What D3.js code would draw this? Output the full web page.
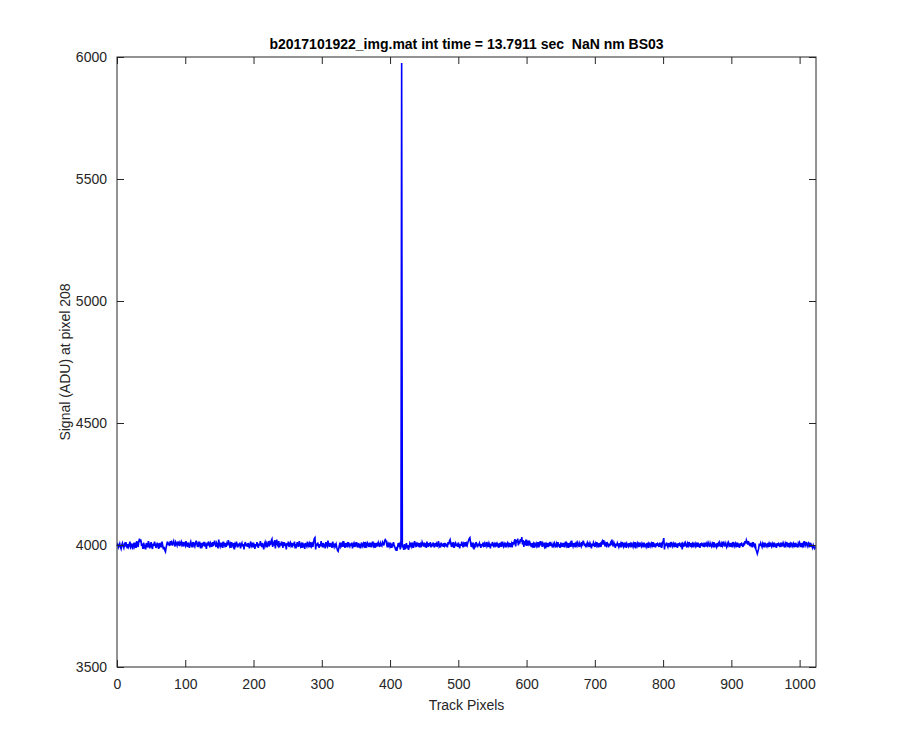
<!DOCTYPE html>
<html><head><meta charset="utf-8">
<script src="https://cdn.jsdelivr.net/npm/d3@7"></script>
<style>body{margin:0;background:#fff}svg{display:block}text{font-family:"Liberation Sans",Arial,sans-serif}</style>
</head><body>
<script>
const titleText = "b2017101922_img.mat int time = 13.7911 sec  NaN nm BS03";
const xLabel = "Track Pixels";
const yLabel = "Signal (ADU) at pixel 208";
const xTicks = [0,100,200,300,400,500,600,700,800,900,1000];
const yTicks = [3500,4000,4500,5000,5500,6000];
const signal = [
3996,4002,3990,3998,4006,3992,3984,4000,4008,3996,3988,4002,3994,4012,3998,3986,4004,3992,4000,4014,3990,3996,4006,3982,3998,4010,3994,4002,3988,4016,4004,3992,
4016,4026,4012,4022,3996,4006,3984,4010,3994,4002,3982,4008,3998,3990,4016,4004,3986,4000,4012,3992,3984,4006,3996,4014,4002,3988,3998,4010,3994,3984,4008,3996,
4002,3990,4014,3998,3982,3992,3978,3972,3990,4004,4014,4000,4010,3996,4016,4006,4012,3998,4008,4016,4002,3994,4012,4006,3998,4014,4004,4010,3996,4008,4014,4000,
4006,3994,4012,4002,3996,4016,4004,3992,4010,4000,3988,4006,4014,3998,4004,3990,4012,4002,3994,4008,4018,4004,3992,4006,3998,4014,4002,3986,4008,3996,4004,4012,
3994,4006,4000,3984,4010,3998,4014,4004,3990,4008,4002,3992,4012,3996,4006,4018,4004,3992,4008,4000,3986,4022,4002,3994,4010,3998,4004,3988,4014,4002,3996,4008,
3992,4006,3998,4020,4010,3996,4004,3988,4012,4000,3994,4008,3982,4004,3998,4014,4002,3990,4006,3996,4010,3986,4000,4008,3994,4004,3982,4002,4012,3996,4006,3992,
4008,3998,3986,4006,4014,3996,4002,3990,4010,3998,3984,4004,3994,4012,4000,3988,4006,3998,4016,4002,3992,4008,3996,3982,4004,4012,3998,4006,3990,4002,4016,3994,
4008,4000,4018,4024,3992,4014,3998,4020,3986,4010,4022,4002,3996,4016,3990,4008,3998,4014,4004,3988,4012,3996,4006,4002,3982,4008,3998,4014,3992,4004,4010,3996,
4002,3990,4008,3998,4014,3986,4004,3996,4012,4000,3992,4016,4006,3994,4002,3988,4010,3998,4006,3984,4008,4000,3994,4014,4002,3990,4006,3998,4012,3996,4004,3992,
4012,4026,4030,3982,4006,3996,4010,4000,3988,4004,3994,4016,4002,3990,4008,3998,4006,3986,4012,4000,3994,4018,4004,3992,4008,3998,4002,3988,4014,4000,3992,4006,
3996,4004,3990,3978,3974,3988,4002,3994,4010,3998,4006,3992,4016,4002,3988,4008,3998,4004,3990,4012,4000,3994,4006,3996,4010,3986,4002,4008,3992,4004,3998,4012,
4000,3990,4008,3996,4004,3986,4010,4000,3994,4006,3998,4012,3988,4004,3996,4008,4002,3992,4010,3998,4004,3990,4006,4014,3996,4002,3988,4008,3998,4004,3994,4010,
4002,3992,4008,4000,3996,4012,4006,3998,4016,4022,4018,4004,3990,4006,3998,4010,3994,4002,3988,4006,3998,4012,4000,3992,3982,3986,3976,3992,4008,3998,4004,3982,
4006,5975,3990,3998,3980,4004,3982,3994,4008,3986,4000,3980,3992,4006,3998,4010,3994,4002,3988,4006,4016,3998,4004,3992,4010,4000,3996,4008,3990,4004,3998,4012,
4004,3994,4010,3998,4002,3988,4014,4002,3992,4008,3996,4012,3990,4006,3994,4010,4000,3990,4008,4000,4006,3992,4004,4016,3994,4000,3990,4010,3996,4006,3992,4008,
3998,4008,3994,4004,3990,4012,4002,4016,4022,4006,3992,4004,3998,4012,3988,4002,4008,3996,4006,3992,4010,4000,3986,4004,3996,4014,4002,3990,4006,4000,4012,3994,
4006,3998,4010,4018,4026,4030,4008,3992,4004,3996,4010,3982,4006,3998,4012,4002,3990,4006,3996,4008,4000,3988,4004,3994,4010,3998,4006,3992,4002,4012,3996,4004,
3992,4008,4000,3986,4006,3996,4012,4002,3990,4004,3998,4010,3994,4006,4000,3988,4008,3998,4004,3992,4014,4002,3994,4006,3998,4010,3990,4002,4008,3996,4004,3992,
4008,3998,4006,3990,4012,4002,4016,4024,3994,4020,4010,4026,3998,4018,4006,4024,4014,4032,4002,4020,3992,4016,4008,4022,3996,4012,4004,4018,3998,4010,4002,3992,
4008,3996,4004,3988,4010,4000,3994,4006,3998,4012,3990,4004,4016,3998,4006,3992,4008,4002,3994,4010,3986,4004,3998,4008,3992,4002,4012,3996,4006,4000,3990,4004,
3996,4008,4000,3990,4006,3998,4012,3994,4004,3988,4010,4002,3992,4008,3998,4004,3990,4006,4014,3996,4002,3988,4008,3998,4006,3992,4018,4002,3994,4008,3998,4004,
3990,4006,3998,4010,4002,3992,4008,4000,3994,4012,4004,4018,4008,3996,4006,3990,4002,4010,3998,4004,3992,4008,4000,3986,4006,3996,4010,4002,3992,4006,3998,4012,
4000,3990,4008,3998,4004,3992,4010,4016,4002,4020,4008,3994,4006,3998,4012,4002,3990,4006,3996,4008,4000,4022,4004,3994,4010,4002,3988,4006,3996,4008,4000,3992,
4008,3998,4006,3990,4012,4002,3994,4010,3998,4004,3988,4006,4000,3994,4008,3998,4004,3990,4010,4000,3992,4006,3998,4012,3986,4002,4008,3996,4004,3992,4010,4000,
3994,4006,3998,4010,3990,4004,4000,3992,4008,3996,4004,3988,4010,4002,3994,4006,3998,4012,3992,4004,4000,3990,4008,3996,4006,4002,3992,4010,3998,4004,3988,4006,
4014,4028,3982,4006,3996,4010,4000,3992,4008,3998,4004,3990,4012,4002,3994,4006,3998,4010,3992,4004,4000,3988,4008,3996,4006,4002,3992,4010,3982,4004,3998,4006,
3994,4008,4000,3990,4006,3998,4012,4002,3992,4008,3996,4004,3990,4010,4000,3994,4006,3998,4010,3992,4004,4000,3988,4008,3996,4006,4002,3992,4010,3998,4004,3994,
4006,3998,4010,4002,3992,4008,4000,3994,4006,3998,4012,3990,4004,4000,3992,4008,3998,4006,3994,4010,4002,3992,4006,3998,4014,4004,3994,4008,4000,3992,4006,3998,
4010,4002,3992,4008,3998,4004,3990,4012,4002,3994,4006,3998,4010,3992,4004,4000,3988,4008,3996,4006,4002,3992,4010,3998,4016,4006,4020,4012,4002,4016,4006,3996,
4008,3998,4004,3990,4012,4000,3994,4006,3982,3974,3964,3974,3986,4006,3996,4008,4000,3992,4006,3998,4010,3990,4004,4000,3994,4008,3998,4006,3992,4010,4002,3994,
4006,3998,4010,3992,4004,4000,3988,4008,3996,4006,4002,3992,4010,3998,4004,3994,4008,4000,3990,4006,3998,4012,4002,3992,4008,3996,4004,3990,4010,4000,3994,4006,
3998,4008,3992,4004,4000,3990,4006,3998,4010,4002,3992,4008,3996,4004,3990,4016,4006,3998,4012,4002,3994,4006,3998,4010,3992,4002,3996,3988,4000,3992,3986,3994
];

const W = 900, H = 750;
const m = {left:117, right:816, top:57, bottom:667};
const svg = d3.select("body").append("svg").attr("width",W).attr("height",H);

const x = d3.scaleLinear().domain([0,1024]).range([m.left,m.right]);
const y = d3.scaleLinear().domain([3500,6000]).range([m.bottom,m.top]);

const axisColor = "#262626";
const tickFs = "14px", labelFs = "14px", titleFs = "14px";

// line
const line = d3.line().x((d,i)=>x(i)).y(d=>y(d));
svg.append("path").datum(signal)
  .attr("fill","none").attr("stroke","#0000ff").attr("stroke-width",1.6)
  .attr("stroke-linejoin","miter").attr("d",line);

// box
svg.append("rect").attr("x",m.left).attr("y",m.top)
  .attr("width",m.right-m.left).attr("height",m.bottom-m.top)
  .attr("fill","none").attr("stroke",axisColor).attr("stroke-width",1);

const tl = 7;
function styleAxis(g){
  g.select(".domain").remove();
  g.selectAll("line").attr("stroke",axisColor);
  g.selectAll("text").attr("fill",axisColor).style("font-size",tickFs).style("font-family","'Liberation Sans',Arial,sans-serif");
}
svg.append("g").attr("transform",`translate(0,${m.bottom})`)
  .call(d3.axisBottom(x).tickValues(xTicks).tickSize(-tl).tickPadding(12).tickFormat(d3.format("d")))
  .call(styleAxis);
svg.append("g").attr("transform",`translate(0,${m.top})`)
  .call(d3.axisTop(x).tickValues(xTicks).tickSize(-tl).tickFormat(""))
  .call(styleAxis);
svg.append("g").attr("transform",`translate(${m.left},0)`)
  .call(d3.axisLeft(y).tickValues(yTicks).tickSize(-tl).tickPadding(10).tickFormat(d3.format("d")))
  .call(styleAxis);
svg.append("g").attr("transform",`translate(${m.right},0)`)
  .call(d3.axisRight(y).tickValues(yTicks).tickSize(-tl).tickFormat(""))
  .call(styleAxis);

// title
svg.append("text").attr("x",(m.left+m.right)/2).attr("y",49)
  .attr("text-anchor","middle").attr("font-weight","bold").style("font-size",titleFs)
  .style("white-space","pre").attr("fill","#000").text(titleText);
// x label
svg.append("text").attr("x",(m.left+m.right)/2).attr("y",710)
  .attr("text-anchor","middle").style("font-size",labelFs).attr("fill",axisColor).text(xLabel);
// y label
svg.append("text").attr("transform",`translate(70,${(m.top+m.bottom)/2}) rotate(-90)`)
  .attr("text-anchor","middle").style("font-size",labelFs).attr("fill",axisColor).text(yLabel);
</script>
</body></html>
